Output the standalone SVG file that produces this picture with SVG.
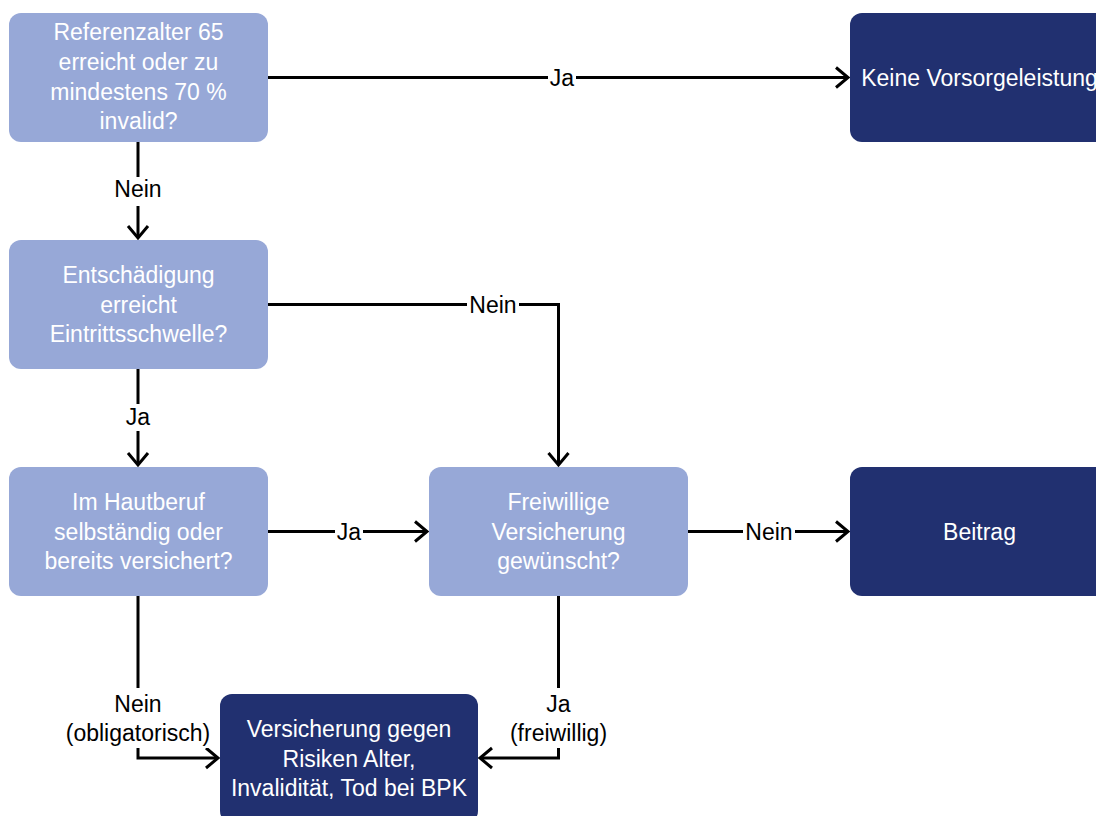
<svg xmlns="http://www.w3.org/2000/svg" width="1096" height="816" viewBox="0 0 1096 816">
<style>
.q{fill:#97A8D7}
.d{fill:#213070}
.t{font-family:"Liberation Sans",Arial,sans-serif;font-size:23px;fill:#fff;text-anchor:middle}
.l{font-family:"Liberation Sans",Arial,sans-serif;font-size:23px;fill:#000;text-anchor:middle}
.c{fill:none;stroke:#000;stroke-width:3}
.bg{fill:#fff}
</style>
<defs>
<marker id="arr" markerUnits="userSpaceOnUse" markerWidth="20" markerHeight="26" viewBox="0 0 20 26" refX="15" refY="13" orient="auto">
<path d="M3,3 L15,13 L3,23" fill="none" stroke="#000" stroke-width="3"/>
</marker>
</defs>
<g id="connectors">
<path class="c" d="M268,77.5 H848" marker-end="url(#arr)"/>
<rect class="bg" x="548" y="64" width="28" height="27"/>
<text class="l" x="562" y="85.5">Ja</text>
<path class="c" d="M138,142 V238" marker-end="url(#arr)"/>
<rect class="bg" x="110" y="177" width="56" height="29"/>
<text class="l" x="138" y="197">Nein</text>
<path class="c" d="M268,304.5 H558.5 V465" marker-end="url(#arr)"/>
<rect class="bg" x="467" y="291" width="52" height="27"/>
<text class="l" x="493" y="312.5">Nein</text>
<path class="c" d="M138,369 V465" marker-end="url(#arr)"/>
<rect class="bg" x="124" y="404" width="28" height="27"/>
<text class="l" x="138" y="425">Ja</text>
<path class="c" d="M268,531.5 H427" marker-end="url(#arr)"/>
<rect class="bg" x="335" y="518" width="28" height="27"/>
<text class="l" x="349" y="539.5">Ja</text>
<path class="c" d="M688,531.5 H848" marker-end="url(#arr)"/>
<rect class="bg" x="743" y="518" width="52" height="27"/>
<text class="l" x="769" y="539.5">Nein</text>
<path class="c" d="M138,596 V758 H218" marker-end="url(#arr)"/>
<rect class="bg" x="60" y="688" width="156" height="60"/>
<text class="l" x="138" y="712">Nein</text>
<text class="l" x="138" y="741">(obligatorisch)</text>
<path class="c" d="M558.5,596 V758 H480" marker-end="url(#arr)"/>
<rect class="bg" x="500" y="688" width="116" height="60"/>
<text class="l" x="558.5" y="712">Ja</text>
<text class="l" x="558.5" y="741">(freiwillig)</text>
</g>
<g id="n1">
<rect class="q" x="9" y="13" width="259" height="129" rx="12"/>
<text class="t" x="138.5" y="39.5">Referenzalter 65</text>
<text class="t" x="138.5" y="69.5">erreicht oder zu</text>
<text class="t" x="138.5" y="99.5">mindestens 70 %</text>
<text class="t" x="138.5" y="129">invalid?</text>
</g>
<g id="n2">
<rect class="d" x="850" y="13" width="259" height="129" rx="12"/>
<text class="t" x="979.5" y="85.5">Keine Vorsorgeleistung</text>
</g>
<g id="n3">
<rect class="q" x="9" y="240" width="259" height="129" rx="12"/>
<text class="t" x="138.5" y="283">Entschädigung</text>
<text class="t" x="138.5" y="312.5">erreicht</text>
<text class="t" x="138.5" y="342">Eintrittsschwelle?</text>
</g>
<g id="n4">
<rect class="q" x="9" y="467" width="259" height="129" rx="12"/>
<text class="t" x="138.5" y="510">Im Hautberuf</text>
<text class="t" x="138.5" y="539.5">selbständig oder</text>
<text class="t" x="138.5" y="569">bereits versichert?</text>
</g>
<g id="n5">
<rect class="q" x="429" y="467" width="259" height="129" rx="12"/>
<text class="t" x="558.5" y="510">Freiwillige</text>
<text class="t" x="558.5" y="539.5">Versicherung</text>
<text class="t" x="558.5" y="569">gewünscht?</text>
</g>
<g id="n6">
<rect class="d" x="850" y="467" width="259" height="129" rx="12"/>
<text class="t" x="979.5" y="539.5">Beitrag</text>
</g>
<g id="n7">
<rect class="d" x="220" y="694" width="258" height="129" rx="12"/>
<text class="t" x="349" y="737">Versicherung gegen</text>
<text class="t" x="349" y="766.5">Risiken Alter,</text>
<text class="t" x="349" y="796">Invalidität, Tod bei BPK</text>
</g>
</svg>
